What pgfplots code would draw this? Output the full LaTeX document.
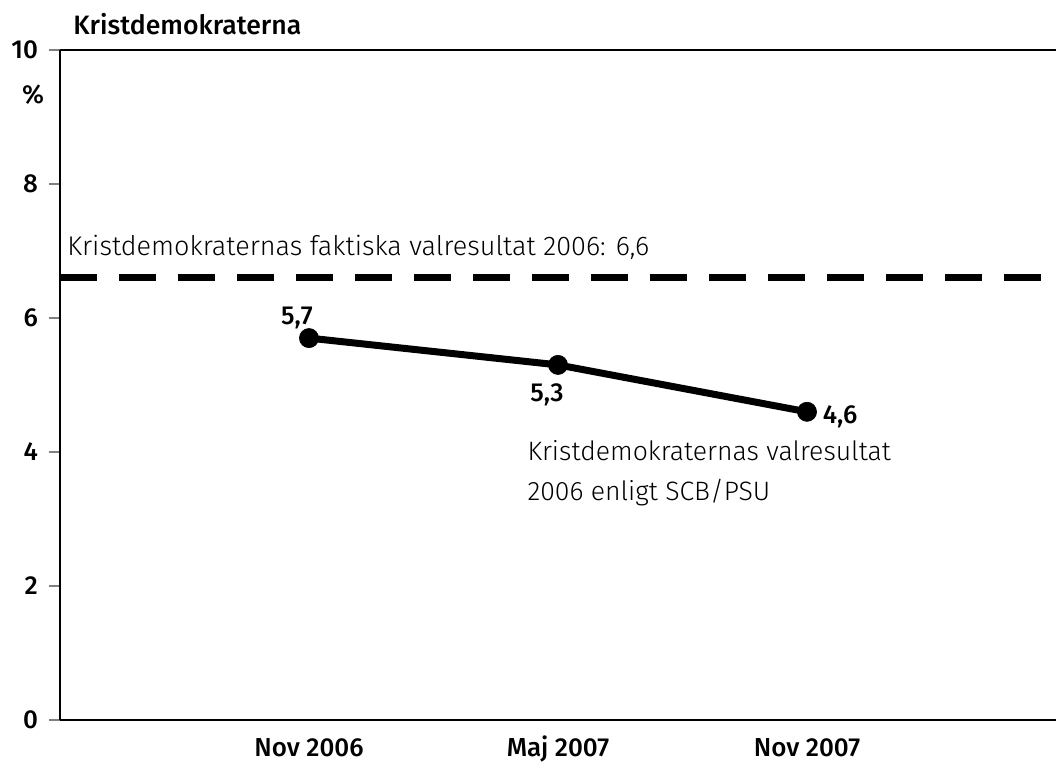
\documentclass[border=0pt]{standalone}
\usepackage{fontspec}
\setmainfont{Fira Sans}
\newfontfamily\light{Fira Sans Light}
\newfontfamily\med{Fira Sans Medium}
\usepackage{pgfplots}
\pgfplotsset{compat=1.18}
\begin{document}
\begin{tikzpicture}
\useasboundingbox (0,0) rectangle (528pt,381pt);
\begin{axis}[
  at={(30pt,21pt)}, anchor=south west,
  scale only axis, width=498pt, height=335pt,
  xmin=-1, xmax=3, ymin=0, ymax=10,
  axis lines=left,
  axis line style={-, line width=1pt, black},
  clip=false,
  xtick={0,1,2},
  xticklabels={Nov 2006, Maj 2007, Nov 2007},
  x tick style={draw=none},
  ytick={0,2,4,6,8,10},
  y tick style={gray, line width=0.6pt},
  tick align=outside,
  major tick length=5.5pt,
  tick label style={font=\med\fontsize{13}{15}\selectfont},
  /pgf/number format/assume math mode=true,
  xticklabel style={text height=9pt, text depth=0pt, yshift=0pt},
  yticklabel style={xshift=-2pt},
]
\draw[line width=1.3pt] (axis cs:-1,10) -- (axis cs:3,10);
\addplot[black, line width=3.5pt, dash pattern=on 18.5pt off 11pt] coordinates {(-1,6.6) (3,6.6)};
\addplot[black, line width=3.5pt, mark=*, mark size=4.8pt, mark options={line width=0.3pt}] coordinates {(0,5.7) (1,5.3) (2,4.6)};
\node[font=\med\fontsize{13}{15}\selectfont] at (axis cs:-0.048,6.0) {5,7};
\node[font=\med\fontsize{13}{15}\selectfont] at (axis cs:0.956,4.85) {5,3};
\node[font=\med\fontsize{13}{15}\selectfont] at (axis cs:2.133,4.52) {4,6};
\node[anchor=base west, inner sep=0pt, font=\light\fontsize{13.5}{15}\selectfont] at (axis cs:-0.972,6.94) {Kristdemokraternas faktiska valresultat 2006: 6,6};
\node[anchor=base west, inner sep=0pt, font=\light\fontsize{13.3}{15}\selectfont] at (axis cs:0.876,3.88) {Kristdemokraternas valresultat};
\node[anchor=base west, inner sep=0pt, font=\light\fontsize{13.3}{15}\selectfont] at (axis cs:0.876,3.28) {2006 enligt SCB/PSU};
\end{axis}
\node[anchor=base west, inner sep=0pt, font=\med\fontsize{13.3}{15}\selectfont] at (36.5pt,363.5pt) {Kristdemokraterna};
\node[font=\med\fontsize{13}{15}\selectfont] at (16.5pt,333.5pt) {\%};
\end{tikzpicture}
\end{document}
